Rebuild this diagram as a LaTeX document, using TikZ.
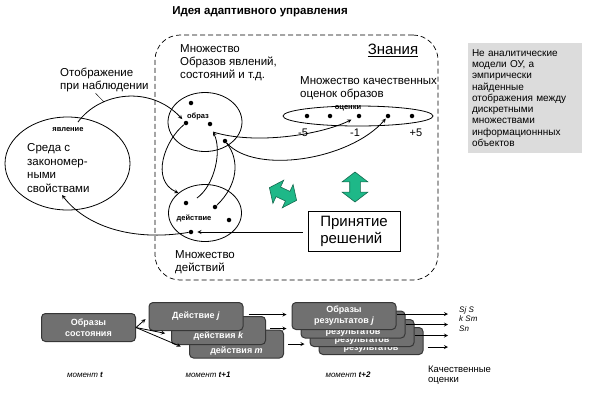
\documentclass[tikz,border=0pt]{standalone}
\usepackage{fontspec}
\setmainfont{Liberation Sans}
\usetikzlibrary{shapes, arrows, positioning, calc}

\definecolor{boxgray}{RGB}{112,112,112}
\definecolor{boxedge}{RGB}{55,55,55}
\definecolor{notegray}{RGB}{220,220,220}
\definecolor{arrowgreen}{RGB}{30,184,136}
\definecolor{arrowedge}{RGB}{20,105,78}

\begin{document}
\begin{tikzpicture}[x=1pt, y=-1pt, auto,
    % text styles
    lbl/.style={font=\fontsize{11.5}{13}\selectfont, align=left, inner sep=0, anchor=west},
    tiny/.style={font=\fontsize{7.5}{8}\selectfont\bfseries, inner sep=0},
    scalelbl/.style={font=\fontsize{11}{12}\selectfont, inner sep=0},
    moment/.style={font=\fontsize{8}{9}\selectfont\itshape, inner sep=0},
    % sets and elements
    setshape/.style={ellipse, draw, line width=0.8pt, inner sep=0},
    dot/.style={circle, fill=black, inner sep=0, minimum size=4.5pt},
    greenarrow/.style={double arrow, draw=arrowedge, fill=arrowgreen, line width=0.6pt,
      minimum height=30pt, inner xsep=0pt, inner ysep=5pt, double arrow head extend=7.5pt,
      double arrow tip angle=105},
    decision/.style={rectangle, draw, line width=0.8pt, font=\fontsize{15}{17}\selectfont,
      align=left, minimum width=92pt, minimum height=40pt, inner sep=4pt},
    note/.style={rectangle, fill=notegray, font=\fontsize{10}{11.3}\selectfont,
      align=left, text width=106pt, minimum height=110pt, inner sep=4pt},
    % bottom row boxes
    stbox/.style={rectangle, rounded corners=4pt, draw=boxedge, line width=1pt, fill=boxgray,
      text=white, font=\fontsize{9}{11}\selectfont\bfseries, align=center,
      minimum width=94pt, minimum height=28pt, inner sep=2pt},
    resbox/.style={stbox, minimum width=104pt, minimum height=27pt},
    arrow/.style={->, >=stealth, line width=0.8pt}
]
\useasboundingbox (0,0) rectangle (593,400);

% Title
\node [font=\fontsize{11.5}{13}\selectfont\bfseries] (title) at (260,12) {Идея адаптивного управления};

% Knowledge frame
\node [draw, dashed, dash pattern=on 5pt off 3pt, line width=0.7pt, rounded corners=25pt,
       minimum width=283pt, minimum height=245pt, inner sep=0] (know) at (296.5,157.5) {};
\node [font=\fontsize{15}{17}\selectfont] (knowlbl) at (393,50) {\underline{Знания}};

% Note box
\node [note] (note) at (525,98) {Не аналитические\\модели ОУ, а\\эмпирически\\найденные\\отображения между\\дискретными\\множествами\\информационнных\\объектов};

% Environment
\node [setshape, minimum width=125pt, minimum height=93pt] (env) at (67.5,163.5) {};
\node [tiny] (phen) at (68,130) {явление};
\node [lbl, font=\fontsize{11.5}{13.5}\selectfont] (envlbl) at (27,168) {Среда с\\закономер-\\ными\\свойствами};
\node [lbl] (obslbl) at (60,80) {Отображение\\при наблюдении};

% Set of images
\node [setshape, minimum width=74pt, minimum height=59pt] (img) at (205,122) {};
\node [tiny] (imglbl) at (198,117) {образ};
\node [dot] (o1) at (191,103) {};
\node [dot] (o2) at (186,123) {};
\node [dot] (o3) at (210,124) {};
\node [dot] (o4) at (225,141) {};
\node [lbl] (imgset) at (180,62.5) {Множество\\Образов явлений,\\состояний и т.д.};

% Set of actions
\node [setshape, minimum width=73pt, minimum height=57pt] (act) at (205,213) {};
\node [tiny] (actlbl) at (194,218) {действие};
\node [dot] (a1) at (186,203) {};
\node [dot] (a2) at (215,207) {};
\node [dot] (a4) at (229,220) {};
\node [dot] (a3) at (191,232) {};
\node [lbl] (actset) at (175,262.5) {Множество\\действий};

% Set of estimates
\node [setshape, minimum width=150pt, minimum height=20pt] (est) at (358,116) {};
\node [tiny] (estlbl) at (348,108) {оценки};
\node [dot] (e1) at (307,116) {};
\node [dot] (e2) at (330,116) {};
\node [dot] (e3) at (359,116) {};
\node [dot] (e4) at (388,116) {};
\node [dot] (e5) at (412,116) {};
\node [scalelbl] (s1) at (303,133) {-5};
\node [scalelbl] (s2) at (355,133) {-1};
\node [scalelbl] (s3) at (416,133) {+5};
\node [lbl] (estset) at (300,88) {Множество качественных\\оценок образов};

% Decision making
\node [decision] (dec) at (354,231) {Принятие\\решений};
\node [greenarrow, rotate=90] (gv) at (355,187) {};
\node [greenarrow, rotate=-25] (gt) at (283,194) {};

% Free ends
\coordinate (obsfrom) at (78,122);
\coordinate (leadend) at (104,102);
\coordinate (actup) at (197,198);
\coordinate (imgin) at (213,132);
\coordinate (envin) at (62,195);

% Connectors in the upper part
\draw (obslbl.south) ++(-9,1) -- (leadend);
\draw [arrow, shorten >=3pt] (obsfrom) .. controls (100,92) and (150,85) .. (o2);
\draw [arrow] (o2) .. controls (165,140) and (150,180) .. (act.143);
\draw [arrow] (actup) .. controls (215,185) and (222,150) .. (imgin);
\draw [line width=0.8pt] (o4) .. controls (240,160) and (238,185) .. (a2);
\draw [arrow, shorten >=6pt] (imgin) .. controls (255,145) and (320,135) .. (e3);
\draw [arrow, shorten >=1pt] (o4) .. controls (255,175) and (350,160) .. (e4);
\draw [arrow, shorten <=5pt, shorten >=4pt] (dec.west |- a3) -- (a3);
\draw [arrow] (a3) .. controls (130,242) and (85,225) .. (envin);

% Bottom row: states, actions, results
\node [stbox] (st) at (88.5,327.5) {Образы\\состояния};
\node [stbox] (dm) at (236.5,344) {\raisebox{-9pt}[0pt][0pt]{действия \textit{m}}};
\node [stbox] (dk) at (218.5,330.5) {\raisebox{-7.5pt}[0pt][0pt]{действия \textit{k}}};
\node [stbox] (dj) at (196,316.5) {Действие \textit{j}};

\node [resbox] (r4) at (371,341) {\raisebox{-9.5pt}[0pt][0pt]{результатов}};
\node [resbox] (r3) at (362,333) {\raisebox{-9.5pt}[0pt][0pt]{результатов}};
\node [resbox] (r2) at (353,324.5) {\raisebox{-10pt}[0pt][0pt]{результатов}};
\node [resbox] (r1) at (344,316) {Образы\\результатов \textit{j}};

\coordinate (qcol) at (448,0);

\draw [arrow, shorten >=4pt] (st.east) -- (dj.west);
\draw [arrow, shorten >=6pt] (st.east) -- ([yshift=-4pt]dk.west);
\draw [arrow, shorten >=9pt] (st.east) -- ([yshift=-6pt]dm.west);

\draw [arrow, shorten <=5pt, shorten >=5pt] ([yshift=2pt]dj.east) -- ([yshift=2pt]dj.east -| r1.west);
\draw [arrow, shorten <=4pt, shorten >=5pt] ([yshift=2pt]dk.east) -- ([yshift=2pt]dk.east -| r1.west);
\draw [arrow, shorten <=4pt, shorten >=5pt] (dm.east) -- (dm.east -| r3.west);

\draw [arrow] ([yshift=2pt]r1.east) -- ([yshift=2pt]r1.east -| qcol);
\draw [arrow] (r2.east) -- (r2.east -| qcol);
\draw [arrow] ([yshift=-2.5pt]r3.east) -- ([yshift=-2.5pt]r3.east -| qcol);
\draw [arrow, shorten <=4pt] ([yshift=-6pt]r4.east) -- ([yshift=-6pt]r4.east -| qcol);

\node [moment, align=left, anchor=north west, font=\fontsize{8}{9.5}\selectfont\itshape] (slbl) at (459,306) {Sj S\\k Sm\\Sn};
\node [lbl, font=\fontsize{9.5}{10.5}\selectfont] (qlbl) at (428,375) {Качественные\\оценки};

\node [moment] (m0) at (85,375) {момент \textbf{t}};
\node [moment] (m1) at (208,375) {момент \textbf{t+1}};
\node [moment] (m2) at (348,375) {момент \textbf{t+2}};

\end{tikzpicture}
\end{document}
